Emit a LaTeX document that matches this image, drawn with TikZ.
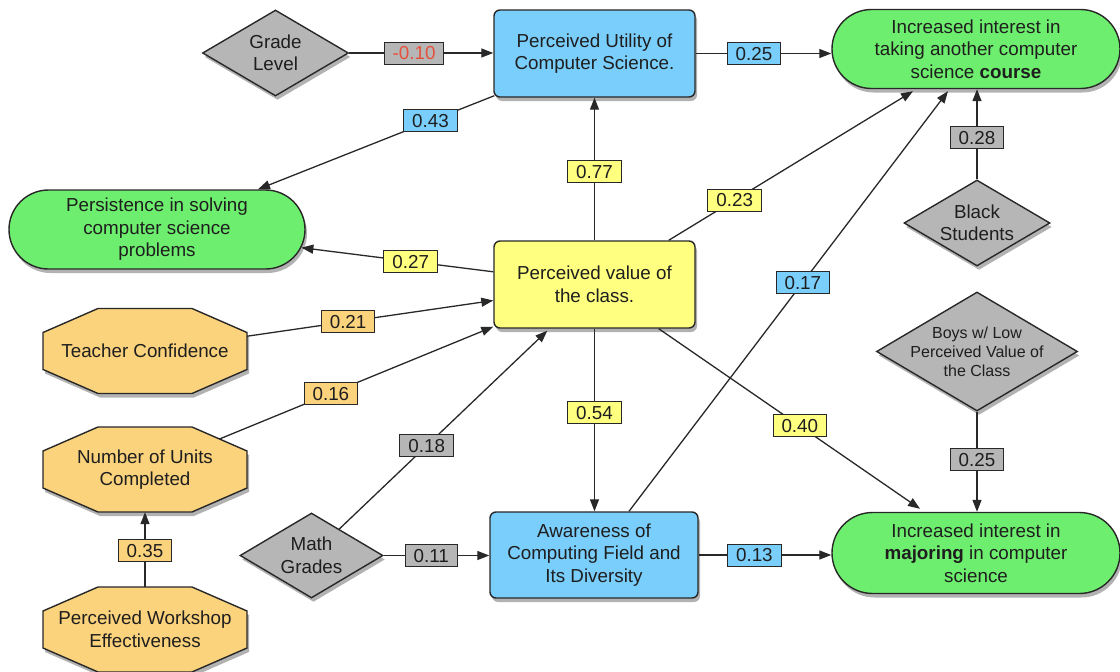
\documentclass[tikz,border=0pt]{standalone}
\usepackage{fontspec}
\setmainfont{Liberation Sans}
\usetikzlibrary{shapes.geometric,shapes.misc,shadows,arrows.meta,calc}
\definecolor{cblue}{RGB}{122,206,252}
\definecolor{cgreen}{RGB}{110,238,110}
\definecolor{cyellow}{RGB}{255,255,128}
\definecolor{corange}{RGB}{252,211,125}
\definecolor{cgray}{RGB}{182,182,182}
\definecolor{cred}{RGB}{230,80,60}
\definecolor{cline}{RGB}{40,40,40}
\definecolor{ctext}{RGB}{30,30,30}
\tikzset{
  shad/.style={drop shadow={shadow xshift=2pt,shadow yshift=-4pt,opacity=0.3,fill=black}},
  base/.style={draw=cline,line width=1.4pt,text=ctext,align=center,inner sep=0pt,
    font=\fontsize{18.8}{22.5}\selectfont,shad},
  boxnode/.style={base,rectangle,rounded corners=6pt,minimum width=201pt,minimum height=87pt},
  pill/.style={base,rounded rectangle,fill=cgreen,minimum height=79pt},
  dia/.style={base,diamond,fill=cgray,minimum width=146pt,minimum height=86pt,shape aspect=1.7},
  octtext/.style={rectangle,inner sep=0pt,align=center,text=ctext,
    font=\fontsize{18.8}{22.5}\selectfont,minimum width=204pt,minimum height=85pt},
  octshape/.style={draw=cline,line width=1.4pt,fill=corange,shad},
  lab/.style={draw=cline,line width=1pt,font=\fontsize{18.8}{22.5}\selectfont,text=ctext,
    minimum height=22pt,inner xsep=8.5pt,inner ysep=0pt,text height=13.5pt,text depth=0pt},
  arr/.style={draw=cline,line width=1.3pt,-{Triangle[length=12pt,width=9pt]}},
}
\newcommand\octnode[4]{%
  \path[octshape,shift={(#2,#3)}] (-47,-42.5) -- (47,-42.5) -- (102,-18.5) -- (102,18.5)
    -- (47,42.5) -- (-47,42.5) -- (-102,18.5) -- (-102,-18.5) -- cycle;
  \node[octtext] (#1) at (#2,#3) {#4};}
\begin{document}
\begin{tikzpicture}[x=1pt,y=-1pt]
\useasboundingbox (0,0) rectangle (1120,672);
% nodes
\node[dia] (grade) at (275.5,53) {Grade\\Level};
\node[boxnode,fill=cblue] (utility) at (594.5,53.5) {Perceived Utility of\\Computer Science.};
\node[pill,minimum width=288pt] (course) at (976,49) {Increased interest in\\taking another computer\\science \textbf{course}};
\node[pill,minimum width=296pt] (persist) at (157,229.5) {Persistence in solving\\computer science\\problems};
\node[boxnode,fill=cyellow] (value) at (594.5,284.5) {Perceived value of\\the class.};
\node[dia] (black) at (977,223) {Black\\Students};
\node[dia,minimum width=201pt,minimum height=119pt,inner sep=-10pt,
      font=\fontsize{16}{19}\selectfont] (boys) at (977,351.5) {Boys w/ Low\\Perceived Value of\\the Class};
\octnode{teacher}{145}{351}{Teacher Confidence}
\octnode{units}{145}{469.5}{Number of Units\\Completed}
\octnode{workshop}{145}{629.5}{Perceived Workshop\\Effectiveness}
\node[dia,minimum width=143pt,minimum height=85pt] (math) at (311.5,555.5) {Math\\Grades};
\node[boxnode,fill=cblue,minimum width=208pt,minimum height=86pt] (awareness) at (594,555) {Awareness of\\Computing Field and\\Its Diversity};
\node[pill,minimum width=288pt,minimum height=81pt] (majoring) at (976,553) {Increased interest in\\\textbf{majoring} in computer\\science};
% connectors
\draw[arr] (grade.east) -- node[lab,pos=.45,fill=cgray,text=cred]{-0.10} (grade.east -| utility.west);
\draw[arr] (utility.east) -- node[lab,pos=.43,fill=cblue]{0.25} (utility.east -| course.west);
\draw[arr] ($(utility.south west)+(1,-2)$) -- node[lab,pos=.27,fill=cblue]{0.43} ($(persist.north)+(101,0)$);
\draw[arr] (value.north) -- node[lab,pos=.48,fill=cyellow]{0.77} (utility.south);
\draw[arr] ($(value.north east)+(-27,0)$) -- node[lab,pos=.27,fill=cyellow]{0.23} ($(course.south)+(-63,2)$);
\draw[arr] ($(awareness.north)+(35,0)$) -- node[lab,pos=.545,fill=cblue]{0.17} ($(course.south)+(-28,2)$);
\draw[arr] (black.north) -- node[lab,pos=.46,fill=cgray]{0.28} (black.north |- course.south);
\draw[arr] (value) -- node[lab,pos=.43,fill=cyellow]{0.27} (persist);
\draw[arr] (teacher) -- node[lab,pos=.41,fill=corange]{0.21} ($(value.west)+(0,16)$);
\draw[arr,shorten <=-30pt] (units) -- node[lab,pos=.34,fill=corange]{0.16} ($(value.south west)+(0,-2)$);
\draw[arr] (math) -- node[lab,pos=.42,fill=cgray]{0.18} ($(value.south west)+(54,2)$);
\draw[arr] (value.south) -- node[lab,pos=.46,fill=cyellow]{0.54} (value.south |- awareness.north);
\draw[arr] ($(value.south east)+(-37,0)$) -- node[lab,pos=.54,fill=cyellow]{0.40} ($(majoring.north)+(-56,-3)$);
\draw[arr] (boys.south) -- node[lab,pos=.475,fill=cgray]{0.25} (boys.south |- majoring.north);
\draw[arr] (workshop) -- node[lab,pos=.49,fill=corange]{0.35} (units);
\draw[arr] (math.east) -- node[lab,pos=.45,fill=cgray]{0.11} (math.east -| awareness.west);
\draw[arr] (awareness.east) -- node[lab,pos=.42,fill=cblue]{0.13} (awareness.east -| majoring.west);
\end{tikzpicture}
\end{document}
